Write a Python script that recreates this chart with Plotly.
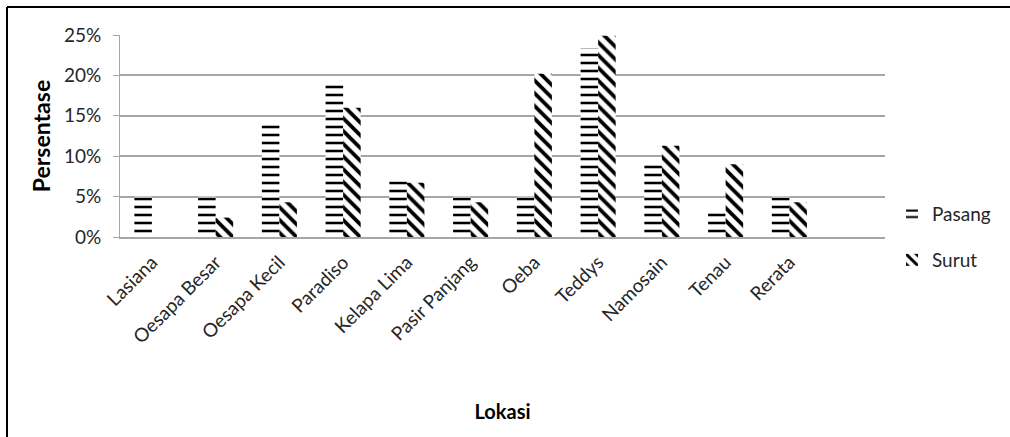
import plotly.graph_objects as go

# Lokasi pengamatan dan persentase per kondisi air
lokasi = ["Lasiana", "Oesapa Besar", "Oesapa Kecil", "Paradiso", "Kelapa Lima",
          "Pasir Panjang", "Oeba", "Teddys", "Namosain", "Tenau", "Rerata"]
pasang = [0.050, 0.050, 0.141, 0.192, 0.069, 0.050, 0.050, 0.234, 0.090, 0.030, 0.050]
surut = [0.000, 0.024, 0.043, 0.160, 0.067, 0.043, 0.202, 0.249, 0.113, 0.090, 0.043]
y_ticks = [0, 0.05, 0.10, 0.15, 0.20, 0.25]
y_labels = ["0%", "5%", "10%", "15%", "20%", "25%"]

W, H = 1010, 437
ML, MR, MT, MB = 120, 125, 35, 200
PW, PH = W - ML - MR, H - MT - MB

def px_x(px):
    return (px - ML) / PW

def px_y(py):
    return (H - MB - py) / PH

xpos = list(range(len(lokasi)))
FONT = "Lato, 'Open Sans', sans-serif"
TXT = "#262626"

fig = go.Figure()
fig.add_trace(go.Bar(
    x=xpos, y=pasang, name="Pasang", legend="legend", showlegend=True,
    marker=dict(color="white", line=dict(width=0),
                pattern=dict(shape="-", fgcolor="black", bgcolor="white", fgopacity=1,
                             size=8, solidity=0.32, fillmode="replace")),
))
fig.add_trace(go.Bar(
    x=xpos, y=surut, name="Surut", legend="legend2", showlegend=True,
    marker=dict(color="white", line=dict(width=0),
                pattern=dict(shape="\\", fgcolor="black", bgcolor="white", fgopacity=1,
                             size=9, solidity=0.42, fillmode="replace")),
))

# Bingkai luar grafik
border = [
    dict(x0=px_x(7), y0=px_y(H + 5), x1=px_x(7), y1=px_y(7)),
    dict(x0=px_x(7), y0=px_y(7), x1=px_x(W + 5), y1=px_y(7)),
]
shapes = [dict(type="line", xref="paper", yref="paper", line=dict(color="black", width=2), **b)
          for b in border]

legend_style = dict(xanchor="left", yanchor="top", bgcolor="rgba(0,0,0,0)",
                    font=dict(size=19, family=FONT, color=TXT), itemwidth=30)

fig.update_layout(
    width=W, height=H,
    margin=dict(l=ML, r=MR, t=MT, b=MB, pad=0),
    paper_bgcolor="white", plot_bgcolor="white",
    font=dict(family=FONT, size=19, color=TXT),
    barmode="group", bargap=0.45, bargroupgap=0,
    showlegend=True,
    shapes=shapes,
    legend=dict(x=px_x(892), y=px_y(195), **legend_style),
    legend2=dict(x=px_x(892), y=px_y(241), **legend_style),
    xaxis=dict(
        range=[-0.5, len(lokasi) + 0.5],
        tickmode="array", tickvals=xpos, ticktext=lokasi,
        tickangle=-45, ticks="", showgrid=False, zeroline=False,
        showline=True, linecolor="#a6a6a6", linewidth=1.5,
        ticklabelstandoff=5,
        tickfont=dict(family=FONT, size=19, color=TXT),
        title=dict(text="<b>Lokasi</b>", font=dict(family=FONT, size=20, color="black"),
                   standoff=58),
    ),
    yaxis=dict(
        range=[0, 0.25], tickmode="array", tickvals=y_ticks, ticktext=y_labels,
        ticks="outside", ticklen=6, tickcolor="#a6a6a6", tickwidth=1,
        ticklabelstandoff=8,
        showgrid=True, gridcolor="#a6a6a6", gridwidth=1.5,
        zeroline=False, showline=True, linecolor="#a6a6a6", linewidth=1,
        tickfont=dict(family=FONT, size=19, color=TXT),
        title=dict(text="<b>Persentase</b>", font=dict(family=FONT, size=23, color="black"),
                   standoff=6),
    ),
)

fig.write_html("out.html")
